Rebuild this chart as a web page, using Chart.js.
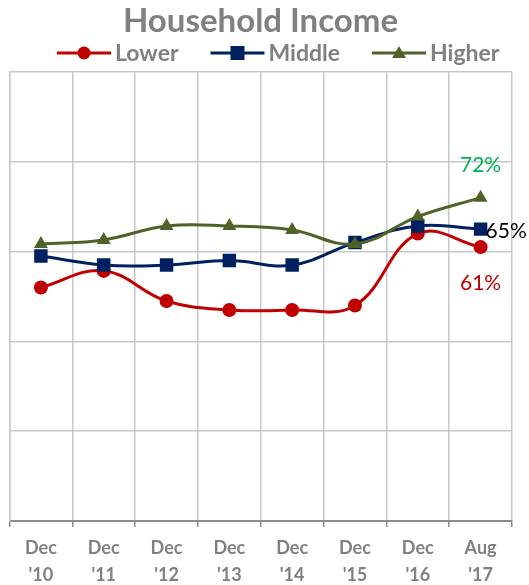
<!DOCTYPE html>
<html>
<head>
<meta charset="utf-8">
<script src="https://cdn.jsdelivr.net/npm/chart.js@4"></script>
<style>
  html, body { margin: 0; padding: 0; background: #fff; }
  #wrap { width: 529px; height: 585px; }
</style>
</head>
<body>
<div id="wrap"><canvas id="grafico"></canvas></div>
<script>
const categories = [["Dec", "'10"], ["Dec", "'11"], ["Dec", "'12"], ["Dec", "'13"], ["Dec", "'14"], ["Dec", "'15"], ["Dec", "'16"], ["Aug", "'17"]];
const lower = [52, 55.7, 49, 47, 47, 48, 64, 61];
const middle = [59, 57, 57, 58, 57, 62, 65.7, 65];
const higher = [61.7, 62.6, 65.7, 65.7, 64.8, 61.7, 67.8, 72];
const endLabels = ["61%", "65%", "72%"];

const FONT = "Lato, 'Open Sans', sans-serif";
const GRAY = "#808080";

const series = [
  { label: "Lower", data: lower, color: "#C00000", style: "circle", radius: 7, order: 3 },
  { label: "Middle", data: middle, color: "#002060", style: "rect", radius: 9.5, order: 2 },
  { label: "Higher", data: higher, color: "#4F6228", style: "triangle", radius: 8, order: 1 }
];

// legend drawn by hand so the line+marker keys and gaps look like the original
const legendPlugin = {
  id: "lineLegend",
  afterDraw(chart) {
    const ctx = chart.ctx;
    ctx.save();
    ctx.font = "bold 23px " + FONT;
    ctx.textBaseline = "middle";
    const y = 53;
    let x = 57;
    series.forEach(s => {
      ctx.strokeStyle = s.color;
      ctx.fillStyle = s.color;
      ctx.lineWidth = 3;
      ctx.beginPath(); ctx.moveTo(x, y); ctx.lineTo(x + 54, y); ctx.stroke();
      const cx = x + 27;
      ctx.beginPath();
      if (s.style === "circle") ctx.arc(cx, y, 6.5, 0, Math.PI * 2);
      else if (s.style === "rect") ctx.rect(cx - 7, y - 7, 14, 14);
      else { ctx.moveTo(cx, y - 7); ctx.lineTo(cx + 7, y + 5); ctx.lineTo(cx - 7, y + 5); ctx.closePath(); }
      ctx.fill();
      x += 58;
      ctx.fillStyle = GRAY;
      ctx.fillText(s.label, x, y + 1);
      x += ctx.measureText(s.label).width + 32;
    });
    ctx.restore();
  }
};

const endLabelPlugin = {
  id: "endLabels",
  afterDatasetsDraw(chart) {
    const ctx = chart.ctx;
    ctx.save();
    ctx.font = "21px " + FONT;
    ctx.textBaseline = "middle";
    const last = categories.length - 1;
    const pL = chart.getDatasetMeta(0).data[last];
    const pM = chart.getDatasetMeta(1).data[last];
    const pH = chart.getDatasetMeta(2).data[last];
    ctx.textAlign = "center";
    ctx.fillStyle = "#C00000";
    ctx.fillText(endLabels[0], pL.x, pL.y + 36);
    ctx.fillStyle = "#00B050";
    ctx.fillText(endLabels[2], pH.x, pH.y - 32);
    ctx.textAlign = "left";
    ctx.fillStyle = "#000";
    ctx.fillText(endLabels[1], pM.x + 5, pM.y + 2);
    ctx.restore();
  }
};

const ctx = document.getElementById("grafico").getContext("2d");
const grafico = new Chart(ctx, {
  type: "line",
  data: {
    labels: categories,
    datasets: series.map(s => ({
      label: s.label,
      data: s.data,
      borderColor: s.color,
      backgroundColor: s.color,
      borderWidth: 3,
      pointStyle: s.style,
      pointRadius: s.radius,
      pointHoverRadius: s.radius,
      pointBorderWidth: 0,
      tension: 0.4,
      order: s.order
    }))
  },
  options: {
    responsive: true,
    maintainAspectRatio: false,
    animation: false,
    layout: { padding: { left: 9, right: 17, top: 0, bottom: 0 } },
    plugins: {
      tooltip: { enabled: false },
      legend: { display: false },
      title: {
        display: true,
        text: "Household Income",
        color: GRAY,
        font: { family: FONT, size: 33, weight: "bold", lineHeight: 1.15 },
        padding: { top: 2, bottom: 32 }
      }
    },
    scales: {
      x: {
        offset: true,
        afterFit: (scale) => { scale.height = 64; },
        grid: { offset: true, color: "#c8c8c8", lineWidth: 1.5, tickLength: 6, tickColor: "#8c8c8c" },
        border: { color: "#8c8c8c", width: 2 },
        ticks: {
          color: GRAY,
          padding: 8,
          maxRotation: 0,
          font: { family: FONT, size: 18, weight: "bold", lineHeight: 1.5 }
        }
      },
      y: {
        min: 0,
        max: 100,
        ticks: { display: false, stepSize: 20 },
        grid: { color: "#c8c8c8", lineWidth: 1.5, drawTicks: false },
        border: { color: "#c8c8c8", width: 1.5 }
      }
    }
  },
  plugins: [endLabelPlugin, legendPlugin]
});
</script>
</body>
</html>
